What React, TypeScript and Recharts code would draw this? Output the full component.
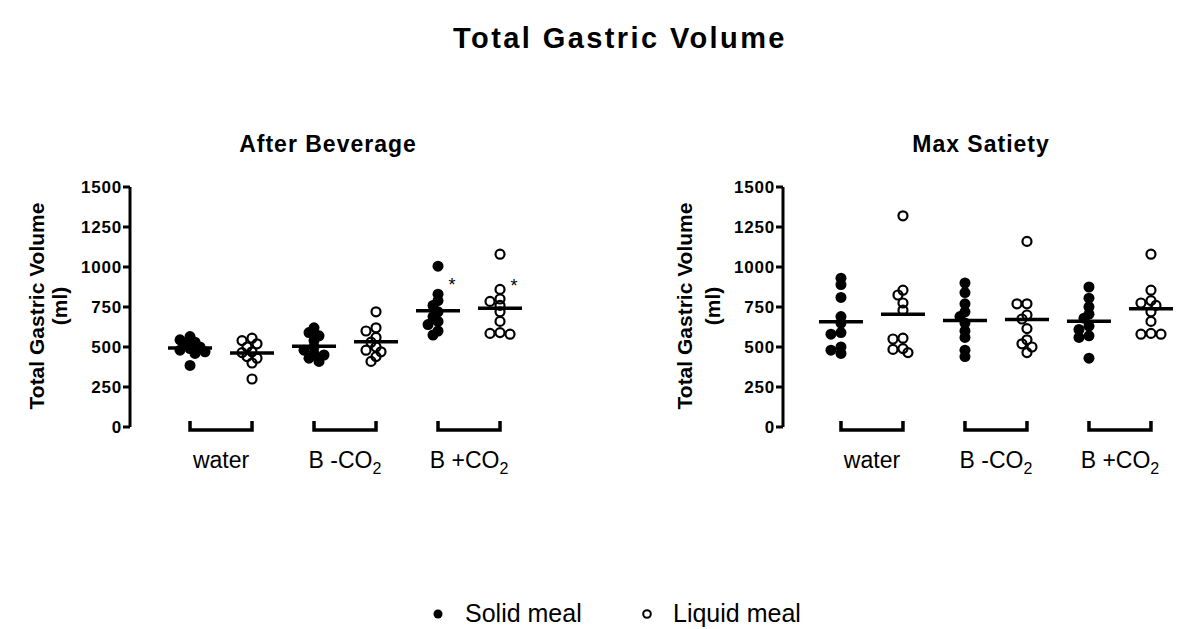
import React from 'react';
import { ScatterChart, Scatter, XAxis, YAxis } from 'recharts';

// ---------- data ----------
const chartTitle = 'Total Gastric Volume';
const panelTitles = ['After Beverage', 'Max Satiety'];
const yAxisLabel = ['Total Gastric Volume', '(ml)'];
const groupLabels = ['water', 'B -CO2', 'B +CO2'];
const legendLabels = ['Solid meal', 'Liquid meal'];
const yTicks = [0, 250, 500, 750, 1000, 1250, 1500];

// After Beverage panel (per group: water, B -CO2, B +CO2)
const afterSolid = [
  [565, 545, 530, 515, 500, 490, 480, 470, 460, 385],
  [620, 590, 570, 540, 500, 480, 460, 450, 430, 410],
  [1005, 830, 790, 760, 720, 690, 660, 640, 600, 575],
];
const afterLiquid = [
  [555, 540, 520, 500, 470, 465, 440, 430, 400, 300],
  [720, 620, 600, 560, 530, 500, 480, 470, 440, 410],
  [1080, 860, 800, 785, 760, 720, 660, 590, 585, 580],
];
// Max Satiety panel
const maxSolid = [
  [930, 890, 810, 690, 650, 590, 580, 500, 480, 460],
  [900, 840, 770, 720, 690, 650, 600, 560, 480, 440],
  [875, 805, 750, 705, 680, 630, 610, 570, 560, 430],
];
const maxLiquid = [
  [1320, 855, 825, 775, 730, 555, 550, 490, 485, 465],
  [1160, 770, 770, 700, 675, 615, 545, 520, 500, 465],
  [1080, 855, 790, 775, 760, 720, 660, 585, 580, 580],
];
// significance markers: group index, meal, value where the "*" sits
const afterStars = [
  { group: 2, meal: 'solid', value: 920 },
  { group: 2, meal: 'liquid', value: 915 },
];
const maxStars: { group: number; meal: string; value: number }[] = [];

// ---------- layout helpers ----------
const FONT = "'Liberation Sans', Arial, Helvetica, sans-serif";
const PX_PER_POS = 62;
const PX_PER_ML = 240 / 1500;

function posOf(group: number, meal: string) {
  return 1 + group * 2 + (meal === 'liquid' ? 1 : 0);
}

function swarm(values: number[], center: number) {
  const placed: { dx: number; py: number }[] = [];
  const cands = [0, -5, 5, -10, 10, -15, 15];
  return values.map((v) => {
    const py = v * PX_PER_ML;
    let best = cands[cands.length - 1];
    for (const dx of cands) {
      if (placed.every((p) => Math.hypot(p.dx - dx, p.py - py) >= 6)) {
        best = dx;
        break;
      }
    }
    placed.push({ dx: best, py });
    return { x: center + best / PX_PER_POS, y: v };
  });
}

function buildPoints(groups: number[][], meal: string) {
  return groups.flatMap((vals, g) => swarm(vals, posOf(g, meal)));
}

function buildMeans(solid: number[][], liquid: number[][]) {
  const out: { x: number; y: number }[] = [];
  solid.forEach((vals, g) => {
    out.push({ x: posOf(g, 'solid'), y: vals.reduce((a, b) => a + b, 0) / vals.length });
  });
  liquid.forEach((vals, g) => {
    out.push({ x: posOf(g, 'liquid'), y: vals.reduce((a, b) => a + b, 0) / vals.length });
  });
  return out;
}

// ---------- shapes ----------
const SolidDot = (p: any) => <circle cx={p.cx} cy={p.cy} r={5.5} fill="#000" />;
const OpenDot = (p: any) => (
  <circle cx={p.cx} cy={p.cy} r={4.5} fill="none" stroke="#000" strokeWidth={2.2} />
);
const MeanBar = (p: any) => (
  <line x1={p.cx - 22} x2={p.cx + 22} y1={p.cy} y2={p.cy} stroke="#000" strokeWidth={3.5} />
);
const StarMark = (p: any) => (
  <text x={p.cx + 14} y={p.cy + 11} fontSize={18} fontFamily={FONT} textAnchor="middle" fill="#000">
    *
  </text>
);

const GroupTick = (p: any) => {
  const { x, y, payload } = p;
  const idx = Math.round((payload.value - 1.5) / 2);
  const label = groupLabels[idx] ?? '';
  const m = label.match(/^(.*CO)(2)$/);
  return (
    <g>
      <path
        d={`M${x - 31},${y - 6} V${y + 3} H${x + 31} V${y - 6}`}
        stroke="#000"
        strokeWidth={3.5}
        fill="none"
      />
      <text x={x} y={y + 41} textAnchor="middle" fontSize={23} fontFamily={FONT} fill="#000">
        {m ? (
          <>
            {m[1]}
            <tspan fontSize={16} dy={6}>
              {m[2]}
            </tspan>
          </>
        ) : (
          label
        )}
      </text>
    </g>
  );
};

type PanelProps = {
  solid: number[][];
  liquid: number[][];
  stars: { group: number; meal: string; value: number }[];
  left: number;
  axisX: number; // absolute x of y-axis
  domainStart: number;
};

const Panel = ({ solid, liquid, stars, left, axisX, domainStart }: PanelProps) => {
  const yAxisWidth = 60;
  const plotWidth = 400;
  const marginLeft = axisX - left - yAxisWidth;
  const marginRight = 600 - (axisX - left) - plotWidth;
  const solidPts = buildPoints(solid, 'solid');
  const liquidPts = buildPoints(liquid, 'liquid');
  const means = buildMeans(solid, liquid);
  const starPts = stars.map((s) => ({ x: posOf(s.group, s.meal), y: s.value }));
  return (
    <div style={{ position: 'absolute', left, top: 0 }}>
      <ScatterChart
        width={600}
        height={629}
        margin={{ top: 187, bottom: 629 - 427 - 60, left: marginLeft, right: marginRight }}
      >
        <XAxis
          type="number"
          dataKey="x"
          domain={[domainStart, domainStart + plotWidth / PX_PER_POS]}
          allowDataOverflow
          ticks={[1.5, 3.5, 5.5]}
          axisLine={false}
          tickLine={false}
          tickSize={0}
          tickMargin={0}
          height={60}
          tick={<GroupTick />}
          interval={0}
        />
        <YAxis
          type="number"
          dataKey="y"
          domain={[0, 1500]}
          ticks={yTicks}
          width={yAxisWidth}
          interval={0}
          axisLine={{ stroke: '#000', strokeWidth: 3 }}
          tickLine={{ stroke: '#000', strokeWidth: 3 }}
          tickSize={7}
          tickMargin={1}
          tick={{ fontSize: 17, fontWeight: 'bold', fill: '#000', fontFamily: FONT, letterSpacing: 0.8 }}
        />
        <Scatter data={solidPts} shape={<SolidDot />} isAnimationActive={false} />
        <Scatter data={liquidPts} shape={<OpenDot />} isAnimationActive={false} />
        <Scatter data={means} shape={<MeanBar />} isAnimationActive={false} />
        {starPts.length > 0 && <Scatter data={starPts} shape={<StarMark />} isAnimationActive={false} />}
      </ScatterChart>
    </div>
  );
};

export default function App() {
  return (
    <div
      style={{
        position: 'absolute',
        left: 0,
        top: 0,
        width: 1200,
        height: 629,
        background: '#fff',
        fontFamily: FONT,
        overflow: 'hidden',
      }}
    >
      <svg width={1200} height={629} style={{ position: 'absolute', left: 0, top: 0 }}>
        <text x={620} y={48} textAnchor="middle" fontSize={29} fontWeight="bold" letterSpacing={2.4} fontFamily={FONT} fill="#000">
          {chartTitle}
        </text>
        <text x={328} y={152} textAnchor="middle" fontSize={23} fontWeight="bold" letterSpacing={1} fontFamily={FONT} fill="#000">
          {panelTitles[0]}
        </text>
        <text x={981} y={152} textAnchor="middle" fontSize={23} fontWeight="bold" letterSpacing={1} fontFamily={FONT} fill="#000">
          {panelTitles[1]}
        </text>
        {[
          [36, 59],
          [684, 712],
        ].map(([x1, x2], i) => (
          <g key={i}>
            <text transform={`translate(${x1},306) rotate(-90)`} textAnchor="middle" dominantBaseline="central" fontSize={21} fontWeight="bold" fontFamily={FONT} fill="#000">
              {yAxisLabel[0]}
            </text>
            <text transform={`translate(${x2},306) rotate(-90)`} textAnchor="middle" dominantBaseline="central" fontSize={21} fontWeight="bold" fontFamily={FONT} fill="#000">
              {yAxisLabel[1]}
            </text>
          </g>
        ))}
        <circle cx={438} cy={614} r={4.5} fill="#000" />
        <text x={465} y={622} fontSize={25} fontFamily={FONT} fill="#000">
          {legendLabels[0]}
        </text>
        <circle cx={647} cy={614} r={3.8} fill="none" stroke="#000" strokeWidth={2} />
        <text x={673} y={622} fontSize={25} fontFamily={FONT} fill="#000">
          {legendLabels[1]}
        </text>
      </svg>
      <Panel solid={afterSolid} liquid={afterLiquid} stars={afterStars} left={0} axisX={130} domainStart={0.032} />
      <Panel solid={maxSolid} liquid={maxLiquid} stars={maxStars} left={600} axisX={783} domainStart={0.065} />
    </div>
  );
}
